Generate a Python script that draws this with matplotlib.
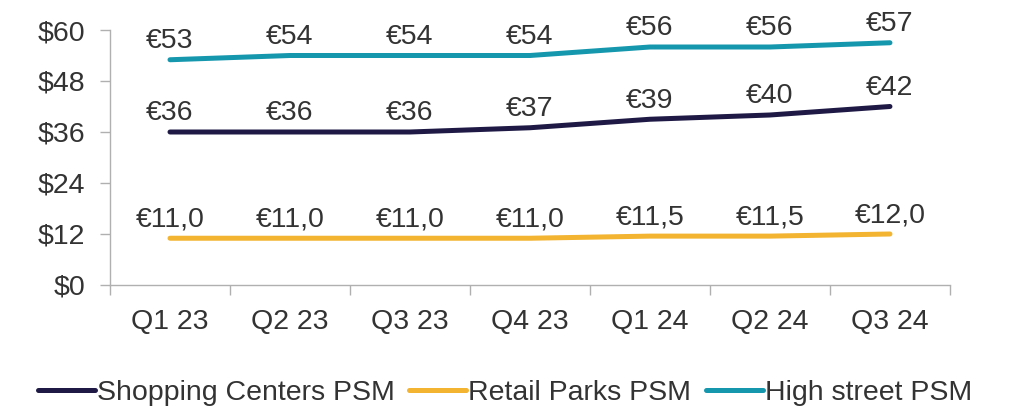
import matplotlib.pyplot as plt
import numpy as np

quarters = ['Q1 23', 'Q2 23', 'Q3 23', 'Q4 23', 'Q1 24', 'Q2 24', 'Q3 24']
shopping_centers = [36, 36, 36, 37, 39, 40, 42]
retail_parks = [11.0, 11.0, 11.0, 11.0, 11.5, 11.5, 12.0]
high_street = [53, 54, 54, 54, 56, 56, 57]
y_ticks = [0, 12, 24, 36, 48, 60]

plt.rcParams['font.family'] = ['Liberation Sans', 'DejaVu Sans']

fig = plt.figure(figsize=(10.12, 4.11), dpi=100)
ax = fig.add_axes([0.1087, 0.3066, 0.83, 0.6204])

x = np.arange(len(quarters))
txt_color = '#333333'
fs = 20.5
series = [
    ('Shopping Centers PSM', shopping_centers, '#1e1a45', lambda v: f'€{v:.0f}'),
    ('Retail Parks PSM', retail_parks, '#f2b431', lambda v: f'€{v:.1f}'.replace('.', ',')),
    ('High street PSM', high_street, '#1597ae', lambda v: f'€{v:.0f}'),
]
for name, vals, col, fmt in series:
    ax.plot(x, vals, color=col, lw=3.6, solid_capstyle='round', label=name)
    for xi, v in zip(x, vals):
        ax.annotate(fmt(v), (xi, v), xytext=(0, 4), textcoords='offset points',
                    ha='center', va='bottom', fontsize=fs, color=txt_color)

ax.set_xlim(-0.5, len(quarters) - 0.5)
ax.set_ylim(0, 60)
ax.set_yticks(y_ticks)
ax.set_yticklabels([f'${t}' for t in y_ticks])
ax.set_xticks(x)
ax.set_xticklabels(quarters)
ax.set_xticks(np.arange(-0.5, len(quarters)), minor=True)
ax.tick_params(axis='x', which='major', length=0, pad=17, labelsize=fs, labelcolor=txt_color)
ax.tick_params(axis='x', which='minor', length=7, width=1, color='#b0b0b0')
ax.tick_params(axis='y', length=7, width=1, color='#b0b0b0', pad=11, labelsize=fs, labelcolor=txt_color)

for s in ['top', 'right']:
    ax.spines[s].set_visible(False)
for s in ['left', 'bottom']:
    ax.spines[s].set_color('#b0b0b0')
    ax.spines[s].set_linewidth(1)

leg = fig.legend(loc='center', bbox_to_anchor=(0.499, 0.044), ncol=3, frameon=False,
                 fontsize=fs, handlelength=2.0, handletextpad=0.08, columnspacing=0.5,
                 borderaxespad=0, borderpad=0)
for t in leg.get_texts():
    t.set_color(txt_color)

fig.savefig('out.png', dpi=100)
